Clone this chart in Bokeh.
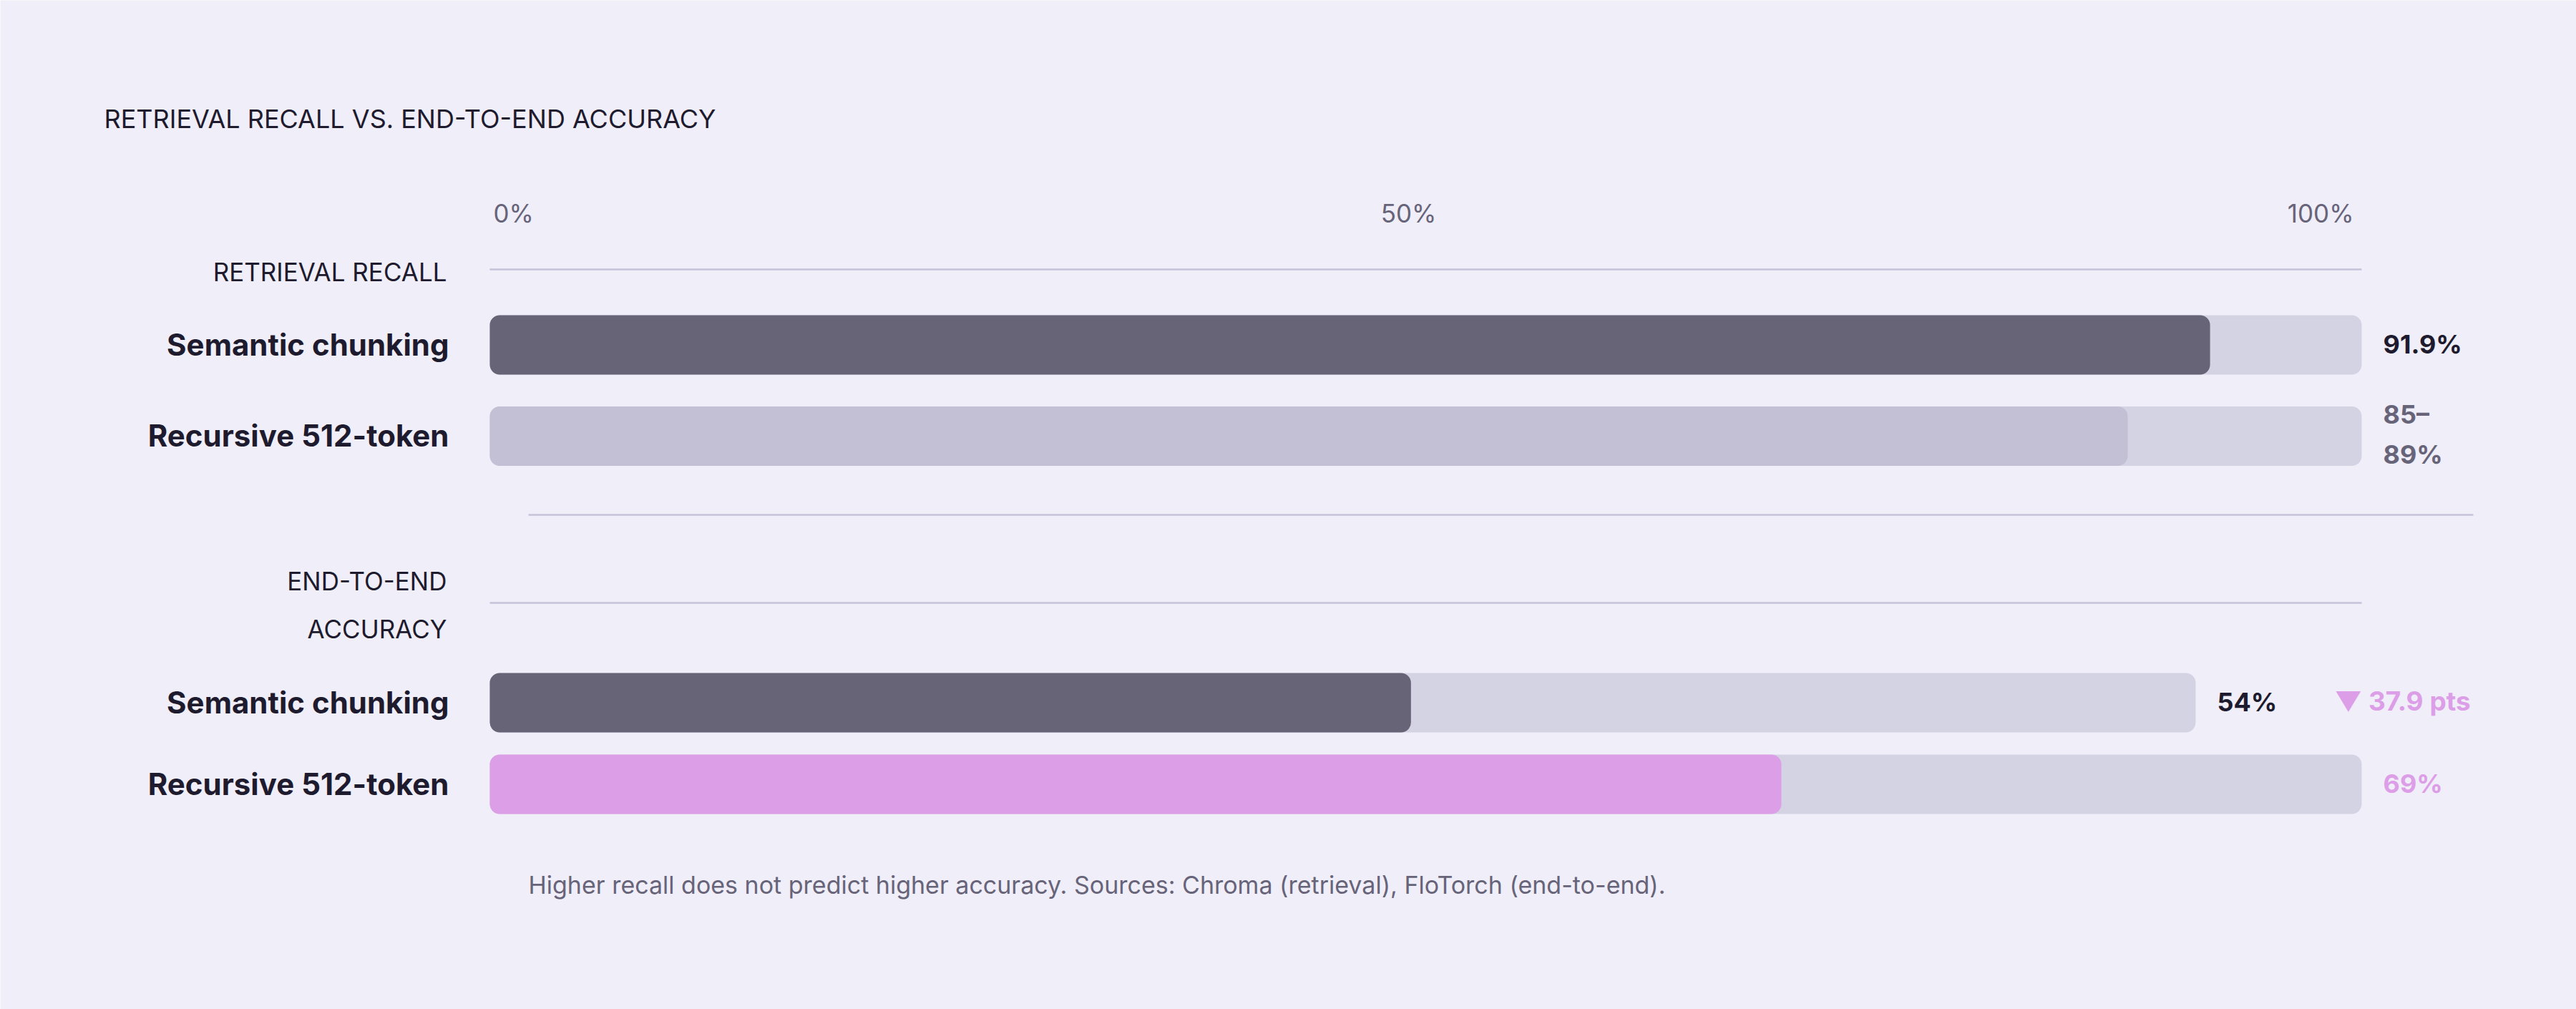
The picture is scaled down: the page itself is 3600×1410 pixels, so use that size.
from bokeh.plotting import figure
from bokeh.models import Range1d
from bokeh.core.properties import value
from bokeh.embed import file_html
from bokeh.resources import INLINE

# ---- data ----
title = "RETRIEVAL RECALL VS. END-TO-END ACCURACY"
tick_values = [0, 50, 100]
tick_labels = ["0%", "50%", "100%"]

recall_section = "RETRIEVAL RECALL"
recall_methods = ["Semantic chunking", "Recursive 512-token"]
recall_values = [91.9, 87.5]
recall_labels = ["91.9%", "85–89%"]

accuracy_section = "END-TO-END ACCURACY"
accuracy_methods = ["Semantic chunking", "Recursive 512-token"]
accuracy_values = [54, 69]
accuracy_labels = ["54%", "69%"]
accuracy_delta = "▼ 37.9 pts"

footer = ("Higher recall does not predict higher accuracy. "
          "Sources: Chroma (retrieval), FloTorch (end-to-end).")

# ---- look ----
BG = "#f0eef8"
TRACK = "#d4d3e3"
DARK_BAR = "#676477"
LIGHT_BAR = "#c3c0d6"
PINK = "#dd9ee8"
INK = "#1e1b2e"
GREY = "#67647a"
RULE = "#c5c2da"
FONT = value("Inter")
DY = -14       # svg text sits a bit low on its baseline, pull it up

W, H = 3600, 1410
X0 = 684.0     # pixel where 0% sits
PXU = 26.16    # pixels per percentage point


def gx(px):
    # pixel column -> percent units
    return (px - X0) / PXU


p = figure(width=W, height=H, x_range=Range1d(gx(0), gx(W)), y_range=Range1d(H, 0),
           x_axis_type=None, y_axis_type=None, tools="", toolbar_location=None,
           output_backend="svg", min_border=0, outline_line_color=None,
           background_fill_color=BG, border_fill_color=BG)

# title
p.text(x=[gx(145)], y=[179 + DY], text=[title], text_font=FONT, text_font_size="36px",
       text_color=INK, text_baseline="alphabetic")

# scale labels
for v, lab, al, off in zip(tick_values, tick_labels, ["left", "center", "right"], [5, -24, -11]):
    p.text(x=[v], y=[311 + DY], text=[lab], x_offset=off, text_align=al, text_font=FONT,
           text_font_size="35px", text_color=GREY, text_baseline="alphabetic")

# rules
p.segment(x0=[0, gx(738), 0], x1=[100, gx(3456), 100], y0=[376, 719, 842], y1=[376, 719, 842],
          line_color=RULE, line_width=2.5)

# section headers
p.text(x=[gx(624)], y=[393 + DY], text=[recall_section], text_align="right", text_font=FONT,
       text_font_size="35px", text_color=INK, text_baseline="alphabetic")
p.text(x=[gx(624)] * 2, y=[825.5 + DY, 892.5 + DY], text=accuracy_section.split(" "),
       text_align="right", text_font=FONT, text_font_size="35px", text_color=INK,
       text_baseline="alphabetic")


def bar_group(rows, methods, values, labels, tracks, fills, label_colors):
    ends = [t for t in tracks]
    bars = [v * t / 100 for v, t in zip(values, tracks)]
    p.hbar(y=rows, left=0, right=ends, height=83, fill_color=TRACK, line_color=None,
           border_radius=14)
    p.hbar(y=rows, left=0, right=bars, height=83, fill_color=fills, line_color=None,
           border_radius=14)
    p.text(x=[gx(627)] * len(rows), y=[r + 13 + DY for r in rows], text=methods,
           text_align="right", text_font=FONT, text_font_style="bold", text_font_size="42px",
           text_color=INK, text_baseline="alphabetic")
    for r, e, lab, c in zip(rows, ends, labels, label_colors):
        lines = lab.replace("–", "–\n").split("\n")
        if len(lines) == 1:
            ys = [r + 12.5 + DY]
        else:
            ys = [r - 17 + DY, r + 39 + DY]
        p.text(x=[e] * len(lines), y=ys, text=lines, x_offset=30, text_font=FONT,
               text_font_style="bold", text_font_size="36px", text_color=c,
               text_baseline="alphabetic")


recall_rows = [481.5, 609]
accuracy_rows = [981.5, 1095.5]

bar_group(recall_rows, recall_methods, recall_values, recall_labels,
          [100, 100], [DARK_BAR, LIGHT_BAR], [INK, GREY])
bar_group(accuracy_rows, accuracy_methods, accuracy_values, accuracy_labels,
          [gx(3068), 100], [DARK_BAR, PINK], [INK, PINK])

p.text(x=[gx(3262)], y=[accuracy_rows[0] + 11.5 + DY], text=[accuracy_delta], text_font=FONT,
       text_font_style="bold", text_font_size="37px", text_color=PINK,
       text_baseline="alphabetic")

# footnote
p.text(x=[gx(738)], y=[1250 + DY], text=[footer], text_font=FONT, text_font_size="34px",
       text_color=GREY, text_baseline="alphabetic")

open("out.html", "w").write(file_html(p, INLINE))
